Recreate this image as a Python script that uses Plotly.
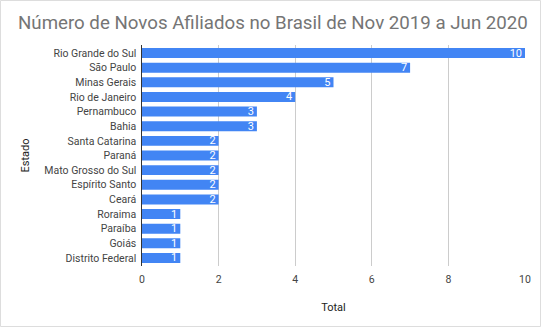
import plotly.graph_objects as go

# Novos afiliados por estado (Nov 2019 - Jun 2020)
estados = [
    "Rio Grande do Sul", "São Paulo", "Minas Gerais", "Rio de Janeiro",
    "Pernambuco", "Bahia", "Santa Catarina", "Paraná", "Mato Grosso do Sul",
    "Espírito Santo", "Ceará", "Roraima", "Paraíba", "Goiás", "Distrito Federal",
]
totais = [10, 7, 5, 4, 3, 3, 2, 2, 2, 2, 2, 1, 1, 1, 1]
x_ticks = [0, 2, 4, 6, 8, 10]

W, H = 542, 328
ML, MR, MT, MB = 142, 17, 45, 62
pw, ph = W - ML - MR, H - MT - MB

fig = go.Figure(go.Bar(
    x=totais,
    y=estados,
    orientation="h",
    marker=dict(color="#4285F4", line=dict(width=0)),
    text=totais,
    textposition="inside",
    insidetextanchor="end",
    constraintext="none",
    textfont=dict(color="white", size=11, family="Roboto"),
    textangle=0,
    width=0.68,
))

fig.update_layout(
    width=W, height=H,
    margin=dict(l=ML, r=MR, t=MT, b=MB),
    paper_bgcolor="white",
    plot_bgcolor="white",
    font=dict(family="Roboto", color="#444444", size=10.5),
    title=dict(
        text="Número de Novos Afiliados no Brasil de Nov 2019 a Jun 2020",
        x=18 / W, xanchor="left", y=1 - 22 / H, yanchor="middle",
        font=dict(size=18.7, color="#757575", family="Roboto"),
    ),
    showlegend=False,
    xaxis=dict(
        range=[0, 10], tickvals=x_ticks, showgrid=True,
        gridcolor="#cccccc", gridwidth=1, zeroline=False,
        ticks="", ticklabelstandoff=5, tickfont=dict(size=10.5, color="#444444"),
        title=dict(text="Total", font=dict(size=11, color="#222222"), standoff=18),
    ),
    yaxis=dict(
        categoryorder="array", categoryarray=estados[::-1],
        autorange=False, range=[-0.55, len(estados) - 0.45],
        showline=True, linecolor="#333333", linewidth=1,
        ticks="", ticksuffix=" ", tickfont=dict(size=10.5, color="#444444"),
        title=dict(text="Estado", font=dict(size=11, color="#222222"), standoff=12),
    ),
    shapes=[dict(
        type="rect", xref="paper", yref="paper", layer="above",
        x0=-(ML - 0.5) / pw, x1=1 + (MR - 1.5) / pw,
        y0=-(MB - 1.5) / ph, y1=1 + (MT - 0.5) / ph,
        line=dict(color="#dddddd", width=1),
    )],
)

fig.write_html("out.html")
